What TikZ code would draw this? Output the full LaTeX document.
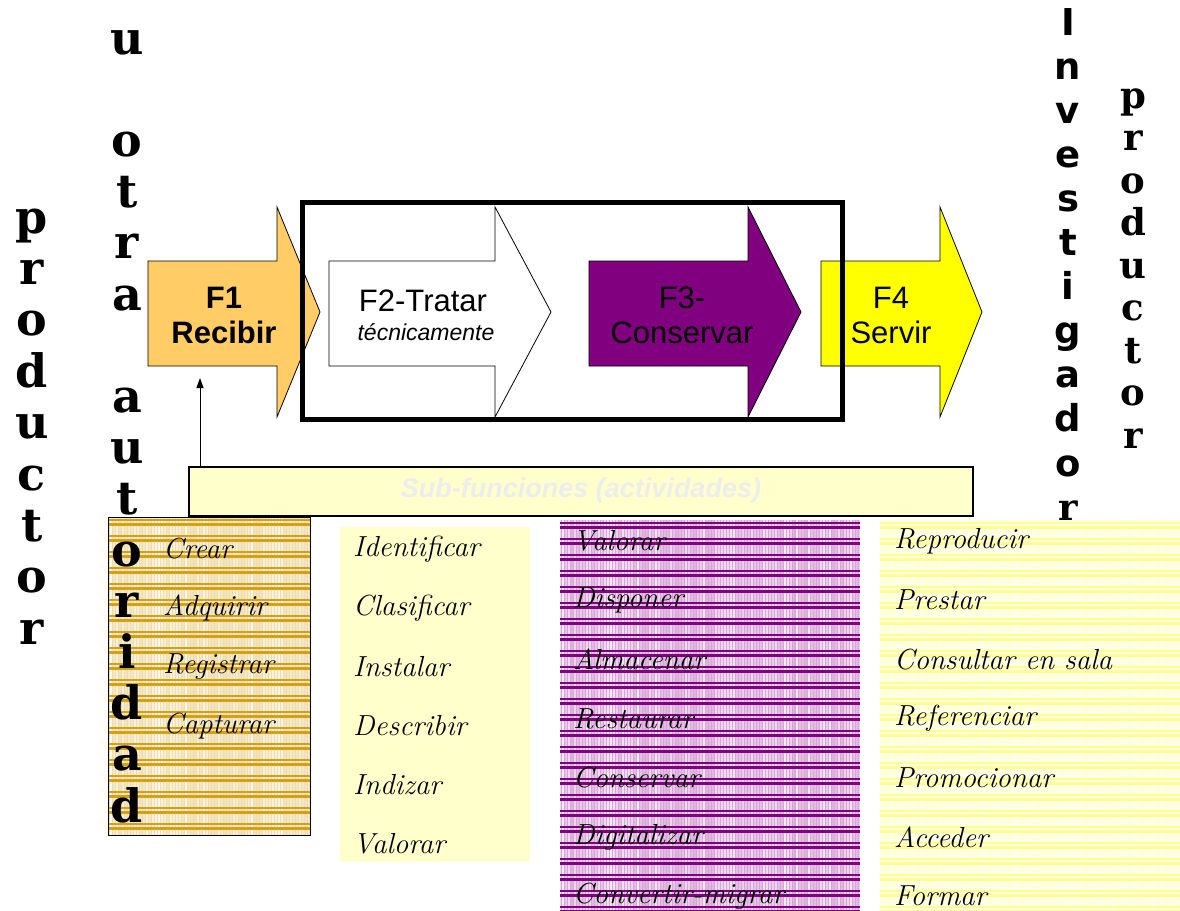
\documentclass[tikz,border=0pt]{standalone}
\usepackage{fontspec}
\newfontfamily\slab{DejaVu Serif}
\newfontfamily\dsans{DejaVu Sans}
\newfontfamily\arial{Liberation Sans}
\usetikzlibrary{arrows.meta}

\definecolor{forange}{HTML}{FFCC66}
\definecolor{fpurple}{HTML}{800080}
\definecolor{fyellow}{HTML}{FFFF00}
\definecolor{pale}{HTML}{FFFFCC}
\definecolor{gold}{HTML}{D6A010}
\definecolor{goldbg}{HTML}{EEDCAA}
\definecolor{lilac}{HTML}{D6A6D6}
\definecolor{yelline}{HTML}{FFFF90}
\definecolor{yelbg}{HTML}{FFFFE8}
\definecolor{ghost}{HTML}{EDEDED}

\newcommand\fnarrow[4]{%
  \path[fill=#1,draw=black,line width=0.8]
    (#2,261) -- (#3,261) -- (#3,207) -- (#4,312) -- (#3,417) -- (#3,366) -- (#2,366) -- cycle;}

% striped panel: #1 line colour, #2 background, #3 vertical stripe colour, #4..#7 = x0,y0,x1,y1
\newcommand\stripepanel[7]{%
  \begin{scope}
    \clip (#4,#5) rectangle (#6,#7);
    \fill[#2] (#4,#5) rectangle (#6,#7);
    \pgfmathsetseed{11}
    \foreach \xx in {#4,\the\numexpr#4+3\relax,...,#6} {
      \pgfmathsetmacro\op{0.15+0.7*rnd}
      \draw[#3,opacity=\op,line width=1.3] (\xx,#5) -- (\xx,#7);
    }
    \foreach \yy in {\the\numexpr#5+3\relax,\the\numexpr#5+19\relax,...,#7} {
      \draw[#1,line width=2.4] (#4,\yy) -- (#6,\yy);
      \draw[#1,line width=2.4] (#4,\yy+4.5) -- (#6,\yy+4.5);
    }
  \end{scope}}

\tikzset{
  bigslab/.style={anchor=base,inner sep=0pt,font=\slab\bfseries\fontsize{46}{46}\selectfont},
  smallslab/.style={anchor=base,inner sep=0pt,font=\slab\bfseries\fontsize{37}{37}\selectfont},
  smallsans/.style={anchor=base,inner sep=0pt,font=\dsans\bfseries\fontsize{37}{37}\selectfont},
  ftext/.style={align=center,inner sep=0pt,font=\arial\fontsize{31}{35}\selectfont},
  hand/.style={anchor=west,inner sep=0pt,font=\itshape\fontsize{29}{29}\selectfont},
}

\begin{document}
\begin{tikzpicture}[x=1pt,y=-1pt]
\useasboundingbox (0,0) rectangle (1180,910);
\fill[white] (0,0) rectangle (1180,910);

% ---------- column 1: orange stripes
\stripepanel{gold}{goldbg}{white}{108}{517}{310}{835}
\draw[line width=1] (108,517) rectangle (310,835);

% ---------- column 2: pale yellow
\fill[pale] (340,527) rectangle (530,862);

% ---------- column 3: purple stripes
\stripepanel{fpurple}{lilac}{white}{560}{520}{860}{910}

% ---------- column 4: yellow stripes
\stripepanel{yelline}{yelbg}{yelline!35}{880}{520}{1180}{910}

% ---------- function arrows
\fnarrow{forange}{148}{277}{320}
\fnarrow{white}{329}{495}{551}
\fnarrow{fpurple}{589}{748}{801}
\fnarrow{fyellow}{821}{940}{982}

\node[draw,line width=5,minimum width=540,minimum height=217,anchor=north west,inner sep=0pt] (frame) at (300,200) {};

\node[ftext,font=\arial\bfseries\fontsize{31}{35}\selectfont] (f1) at (224,315) {F1\\Recibir};
\node[ftext,anchor=base] (f2) at (423,311) {F2-Tratar};
\node[anchor=base,inner sep=0pt,font=\arial\itshape\fontsize{23}{23}\selectfont] (f2b) at (426,340) {técnicamente};
\node[ftext] (f3) at (682,315) {F3-\\Conservar};
\node[ftext] (f4) at (891,315) {F4\\Servir};

% ---------- sub-functions box and connector
\node[draw,line width=2,fill=pale,minimum width=784,minimum height=49,anchor=north west,inner sep=0pt] (sub) at (188,466) {};
\node[text=ghost,inner sep=0pt,font=\arial\bfseries\itshape\fontsize{27}{27}\selectfont] (subt) at (581,491) {Sub-funciones (actividades)};
\coordinate (tipF1) at (200,378);
\draw[-{Triangle[length=10,width=7]},line width=1] (sub.north -| tipF1) -- (tipF1);

% ---------- activities
\foreach \t [count=\i] in {Crear,Adquirir,Registrar,Capturar}
  \node[hand] (a1\i) at (163,{549+(\i-1)*59}) {\t};
\foreach \t [count=\i] in {Identificar,Clasificar,Instalar,Describir,Indizar,Valorar}
  \node[hand] (a2\i) at (353,{549+(\i-1)*59}) {\t};
\foreach \t [count=\i] in {Valorar,Disponer,Almacenar,Restaurar,Conservar,Digitalizar,Convertir-migrar}
  \node[hand] (a3\i) at (573,{541+(\i-1)*59.2}) {\t};
\foreach \t [count=\i] in {Reproducir,Prestar,Consultar en sala,Referenciar,Promocionar,Acceder,Formar}
  \node[hand] (a4\i) at (894,{541+(\i-1)*59.2}) {\t};

% ---------- vertical words
\foreach \ch [count=\i] in {p,r,o,d,u,c,t,o,r}
  \node[bigslab] (pl\i) at (32,{233+(\i-1)*51.4}) {\ch};
\foreach \k/\ch in {0/u,2/o,3/t,4/r,5/a,7/a,8/u,9/t,10/o,11/r,12/i,13/d,14/a,15/d}
  \node[bigslab] (ua\k) at (127,{54+\k*51.2}) {\ch};
\foreach \ch [count=\i] in {I,n,v,e,s,t,i,g,a,d,o}
  \node[smallsans] (iv\i) at (1068,{35+(\i-1)*44.1}) {\ch};
\node[smallslab] (iv12) at (1068,520) {r};
\foreach \ch [count=\i] in {p,r,o,d,u,c,t,o,r}
  \node[smallslab] (pr\i) at (1133,{108+(\i-1)*42.5}) {\ch};
\end{tikzpicture}
\end{document}
